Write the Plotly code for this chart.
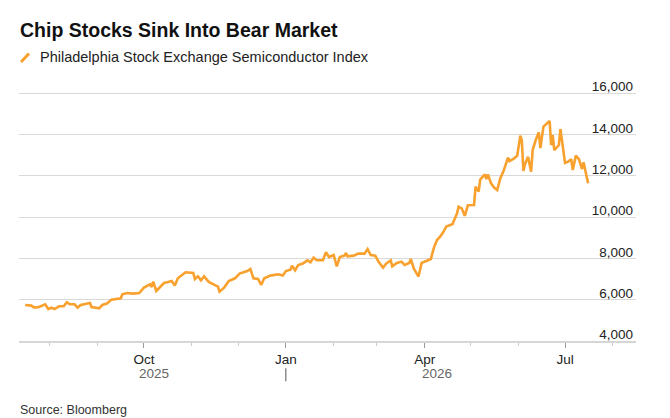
import pandas as pd
import plotly.graph_objects as go

# Philadelphia Stock Exchange Semiconductor Index
dates = [
    "2025-07-16", "2025-07-20", "2025-07-22", "2025-07-25", "2025-07-29", "2025-07-31",
    "2025-08-02", "2025-08-04", "2025-08-07", "2025-08-10", "2025-08-12", "2025-08-14",
    "2025-08-17", "2025-08-19", "2025-08-21", "2025-08-24", "2025-08-27", "2025-08-28",
    "2025-08-30", "2025-09-02", "2025-09-04", "2025-09-07", "2025-09-10", "2025-09-13",
    "2025-09-16", "2025-09-17", "2025-09-20", "2025-09-24", "2025-09-28", "2025-10-01",
    "2025-10-03", "2025-10-05", "2025-10-06", "2025-10-07", "2025-10-09", "2025-10-12",
    "2025-10-14", "2025-10-16", "2025-10-19", "2025-10-21", "2025-10-23", "2025-10-28",
    "2025-10-31", "2025-11-02", "2025-11-03", "2025-11-05", "2025-11-07", "2025-11-09",
    "2025-11-12", "2025-11-15", "2025-11-18", "2025-11-19", "2025-11-22", "2025-11-25",
    "2025-11-29", "2025-12-02", "2025-12-05", "2025-12-07", "2025-12-09", "2025-12-11",
    "2025-12-14", "2025-12-16", "2025-12-18", "2025-12-22", "2025-12-27", "2025-12-30",
    "2026-01-01", "2026-01-04", "2026-01-05", "2026-01-07", "2026-01-09", "2026-01-12",
    "2026-01-15", "2026-01-17", "2026-01-19", "2026-01-21", "2026-01-25", "2026-01-27",
    "2026-01-29", "2026-02-01", "2026-02-03", "2026-02-05", "2026-02-08", "2026-02-09",
    "2026-02-10", "2026-02-14", "2026-02-17", "2026-02-21", "2026-02-23", "2026-02-25",
    "2026-02-28", "2026-03-02", "2026-03-05", "2026-03-07", "2026-03-10", "2026-03-11",
    "2026-03-14", "2026-03-17", "2026-03-19", "2026-03-22", "2026-03-23", "2026-03-25",
    "2026-03-28", "2026-03-30", "2026-04-02", "2026-04-05", "2026-04-07", "2026-04-09",
    "2026-04-11", "2026-04-13", "2026-04-15", "2026-04-19", "2026-04-22", "2026-04-23",
    "2026-04-25", "2026-04-27", "2026-04-29", "2026-05-03", "2026-05-04", "2026-05-06",
    "2026-05-07", "2026-05-09", "2026-05-10", "2026-05-11", "2026-05-12", "2026-05-14",
    "2026-05-16", "2026-05-18", "2026-05-20", "2026-05-22", "2026-05-25", "2026-05-26",
    "2026-05-29", "2026-05-31", "2026-06-02", "2026-06-03", "2026-06-04", "2026-06-05",
    "2026-06-07", "2026-06-09", "2026-06-10", "2026-06-12", "2026-06-14", "2026-06-15",
    "2026-06-17", "2026-06-21", "2026-06-22", "2026-06-23", "2026-06-24", "2026-06-27",
    "2026-06-28", "2026-07-01", "2026-07-03", "2026-07-05", "2026-07-06", "2026-07-08",
    "2026-07-10", "2026-07-12", "2026-07-13", "2026-07-15", "2026-07-16",
]
index_values = [
    5742, 5713, 5616, 5645, 5776, 5549,
    5616, 5549, 5679, 5679, 5873, 5776,
    5776, 5616, 5742, 5776, 5839, 5645,
    5616, 5582, 5742, 5810, 6003, 6032,
    6066, 6260, 6323, 6294, 6323, 6584,
    6647, 6744, 6613, 6874, 6420, 6647,
    6807, 6840, 6903, 6681, 7034, 7324,
    7290, 7290, 7000, 7131, 6937, 7131,
    6860, 6744, 6632, 6390, 6584, 6903,
    7034, 7261, 7324, 7387, 7484, 7034,
    7000, 6710, 7034, 7165, 7228, 7165,
    7387, 7455, 7649, 7421, 7678, 7745,
    7905, 7808, 8036, 7905, 7905, 8292,
    8065, 8162, 7615, 8065, 8133, 8258,
    8099, 8133, 8229, 8229, 8452, 8162,
    8133, 7842, 7552, 7745, 7905, 7615,
    7775, 7842, 7678, 7775, 7968, 7500,
    7120, 7780, 7871, 7968, 8519, 8887,
    9052, 9260, 9536, 9647, 10180, 10503,
    10421, 10060, 10570, 10581, 11471, 11230,
    11815, 11955, 12067, 11839, 12067, 11631,
    11423, 11307, 11873, 12197, 12875, 12710,
    12841, 12972, 13939, 13700, 12226, 12550,
    12923, 12197, 13242, 13726, 14099, 13340,
    14375, 14646, 13484, 13968, 13242, 13484,
    14259, 12620, 12681, 12800, 12275, 12972,
    12800, 12323, 12647, 11955, 11631,
]

y_ticks = [4000, 6000, 8000, 10000, 12000, 14000, 16000]
years = ["2025", "2026"]

ORANGE = "#f9a12e"
FONT = "Liberation Sans"
W, H = 670, 418
L, R, T, B = 11, 42, 82.6, 85.3


def px(x):
    return (x - L) / (W - L - R)


def py(y):
    return (H - B - y) / (H - T - B)


df = pd.DataFrame({"date": pd.to_datetime(dates), "value": index_values})

fig = go.Figure()
fig.add_trace(go.Scatter(
    x=df["date"], y=df["value"], mode="lines",
    line=dict(color=ORANGE, width=2.6), hoverinfo="x+y", showlegend=False,
))

fig.update_layout(
    width=W, height=H,
    margin=dict(l=L, r=R, t=T, b=B),
    paper_bgcolor="white", plot_bgcolor="white",
    font=dict(family=FONT, color="#222222"),
)

fig.update_xaxes(
    type="date",
    range=["2025-07-12", "2026-08-16"],
    tick0="2025-10-01", dtick="M3", tickformat="%b",
    ticks="outside", ticklen=5, tickcolor="#9a9a9a", tickwidth=1,
    minor=dict(dtick="M1", ticks="outside", ticklen=3, tickcolor="#cccccc", tickwidth=1),
    showgrid=False, zeroline=False,
    showline=True, linecolor="#d6d6d6", linewidth=2,
    tickfont=dict(size=13.5, color="#222222"),
)

fig.update_yaxes(
    range=[4000, 16100],
    tickvals=y_ticks, tickformat=",",
    side="right", ticklabelposition="inside top", ticklabeloverflow="allow",
    ticklabelshift=3,
    ticks="", showgrid=True, gridcolor="#d9d9d9", gridwidth=1,
    zeroline=False, showline=False,
    tickfont=dict(size=13.5, color="#222222"),
)

# title
fig.add_annotation(
    x=px(10), xref="paper", y=py(22), yref="paper",
    text="<b>Chip Stocks Sink Into Bear Market</b>",
    showarrow=False, xanchor="left", yanchor="middle",
    font=dict(size=19.5, color="#111111", family=FONT),
)

# year labels centred under each year's stretch of data
for yr in years:
    part = df[df["date"].dt.year == int(yr)]["date"]
    mid = part.min() + (part.max() - part.min()) / 2
    fig.add_annotation(
        x=mid, xref="x", y=py(365.7), yref="paper",
        text=yr, showarrow=False, yanchor="middle",
        font=dict(size=13.5, color="#666666", family=FONT),
    )

# year separator
fig.add_shape(type="line", xref="x", yref="paper",
              x0="2026-01-01", x1="2026-01-01", y0=py(360), y1=py(373),
              line=dict(color="#555555", width=1))

# legend key
fig.add_shape(type="line", xref="paper", yref="paper",
              x0=px(13), x1=px(21), y0=py(53.5), y1=py(45),
              line=dict(color=ORANGE, width=3))
fig.add_annotation(
    x=px(30), xref="paper", y=py(49), yref="paper",
    text="Philadelphia Stock Exchange Semiconductor Index",
    showarrow=False, xanchor="left", yanchor="middle",
    font=dict(size=14.5, color="#222222", family=FONT),
)

fig.add_annotation(
    x=px(10), xref="paper", y=py(402), yref="paper",
    text="Source: Bloomberg", showarrow=False, xanchor="left", yanchor="middle",
    font=dict(size=12.5, color="#333333", family=FONT),
)

fig.write_html("out.html")
